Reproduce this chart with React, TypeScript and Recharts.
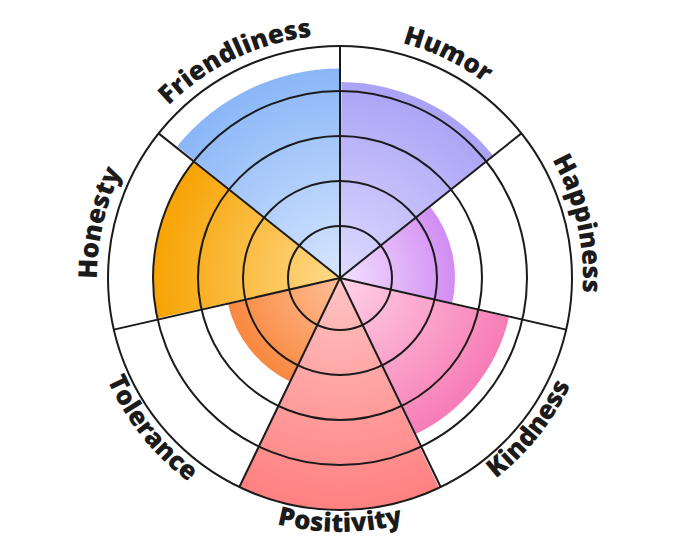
import { Cell, PolarAngleAxis, PolarGrid, PolarRadiusAxis, RadialBar, RadialBarChart } from "recharts";

const CATEGORIES = ["Humor", "Happiness", "Kindness", "Positivity", "Tolerance", "Honesty", "Friendliness"];
const SCORES = [4.2, 2.4, 3.7, 5, 2.4, 4, 4.5];
const RINGS = [1, 2, 3, 4, 5];

// inner / outer colour of each wedge's radial gradient
const LIGHT = ["#dedbff", "#f3e2ff", "#ffd3e6", "#ffc4c4", "#ffbf98", "#ffda8c", "#d7e6fd"];
const DEEP = ["#aaa3f6", "#d28cf3", "#f77cb6", "#ff8080", "#f8883f", "#f7a303", "#8ab6f8"];

const W = 680;
const H = 557;
const CX = 340;
const CY = 278;
const OUTER = 232;
// the reference rings sit a bit off zero: first ring at ~52px, then every 45px
const MIN = -0.155;
const MAX = 5;
const INK = "#1b1b1b";
const SLICE = 360 / CATEGORIES.length;

const data = CATEGORIES.map((name, i) => ({ name, score: SCORES[i] }));

const rOf = (v: number) => ((v - MIN) / (MAX - MIN)) * OUTER;

// clockwise angle from 12 o'clock -> page point
const pt = (r: number, deg: number) => {
  const a = (deg * Math.PI) / 180;
  return { x: CX + r * Math.sin(a), y: CY - r * Math.cos(a) };
};

function CurvedTick(props: { index?: number; payload?: { value: string } }) {
  const { index = 0, payload } = props;
  const mid = (index + 0.5) * SLICE;
  const bottom = mid > 90 && mid < 270;
  const r = bottom ? 254 : 243;
  const span = 75;
  const p0 = pt(r, bottom ? mid + span : mid - span);
  const p1 = pt(r, bottom ? mid - span : mid + span);
  const id = `lbl-path-${index}`;
  return (
    <g>
      <path id={id} d={`M ${p0.x} ${p0.y} A ${r} ${r} 0 0 ${bottom ? 0 : 1} ${p1.x} ${p1.y}`} fill="none" stroke="none" />
      <text fontFamily="'Open Sans', sans-serif" fontWeight={800} fontSize={26} fill={INK}>
        <textPath href={`#${id}`} startOffset="50%" textAnchor="middle">
          {payload?.value}
        </textPath>
      </text>
    </g>
  );
}

export default function App() {
  return (
    <div style={{ position: "absolute", left: 0, top: 0, width: W, height: H, background: "#fff" }}>
      <RadialBarChart
        width={W}
        height={H}
        data={data}
        layout="centric"
        cx={CX}
        cy={CY}
        innerRadius={0}
        outerRadius={OUTER}
        startAngle={90 - SLICE}
        endAngle={-270 - SLICE}
        barCategoryGap={0}
        barGap={0}
        margin={{ top: 0, right: 0, bottom: 0, left: 0 }}
      >
        <defs>
          {CATEGORIES.map((c, i) => (
            <radialGradient
              key={c}
              id={`wedge-${i}`}
              gradientUnits="userSpaceOnUse"
              cx={CX}
              cy={CY}
              r={rOf(SCORES[i])}
            >
              <stop offset="0%" stopColor={LIGHT[i]} />
              <stop offset="100%" stopColor={DEEP[i]} />
            </radialGradient>
          ))}
        </defs>
        <PolarAngleAxis type="category" dataKey="name" axisLine={false} tickLine={false} tick={<CurvedTick />} />
        <PolarRadiusAxis type="number" domain={[MIN, MAX]} tick={false} axisLine={false} />
        <RadialBar dataKey={(d: { score: number }) => [MIN, d.score]} isAnimationActive={false}>
          {data.map((d, i) => (
            <Cell key={d.name} fill={`url(#wedge-${i})`} />
          ))}
        </RadialBar>
        <PolarGrid
          zIndex={600}
          gridType="circle"
          stroke={INK}
          strokeWidth={2}
          strokeOpacity={1}
          polarRadius={RINGS.map(rOf)}
          polarAngles={CATEGORIES.map((_, i) => 90 - i * SLICE)}
        />
      </RadialBarChart>
    </div>
  );
}
